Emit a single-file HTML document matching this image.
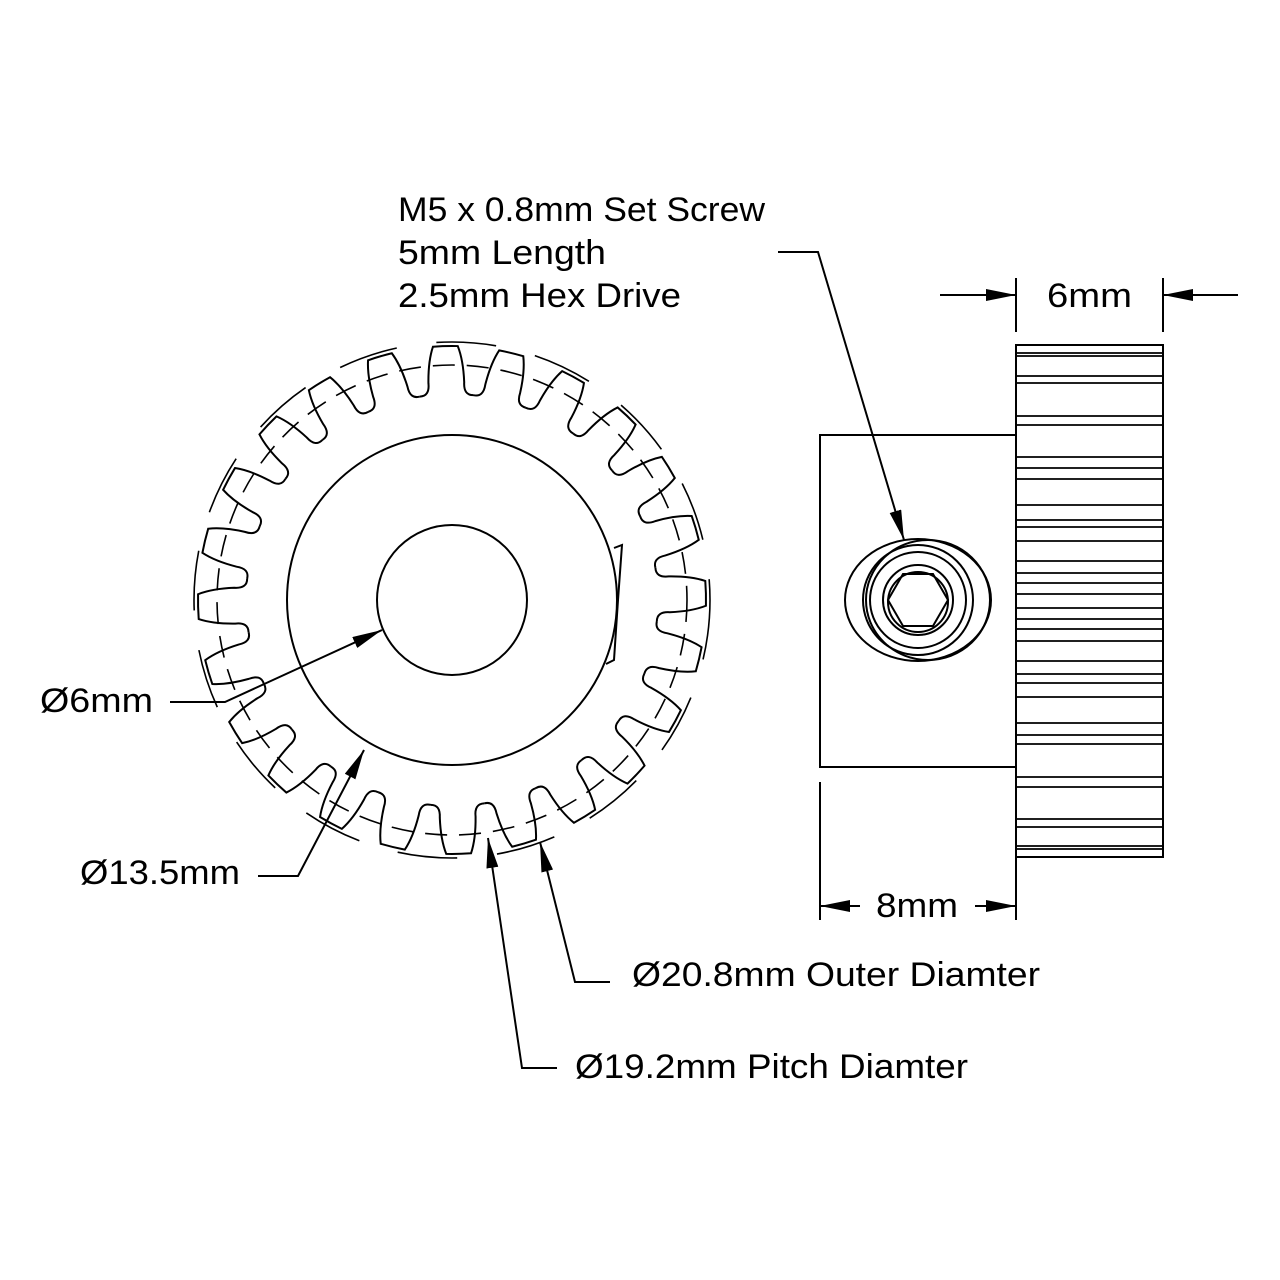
<!DOCTYPE html>
<html><head><meta charset="utf-8"><style>
html,body{margin:0;padding:0;background:#fff}
svg{display:block}
text{font-family:"Liberation Sans",sans-serif;font-size:34px;fill:#000}
</style></head><body>
<svg width="1280" height="1280" viewBox="0 0 1280 1280" xmlns="http://www.w3.org/2000/svg">
<defs>
<marker id="ar" markerWidth="30" markerHeight="12" refX="30" refY="6" orient="auto" markerUnits="userSpaceOnUse"><path d="M0,0 L30,6 L0,12 Z" fill="#000"/></marker>
<path id="t" d="M-26.9,-204.2 Q-16.8,-204.3 -17.9,-217.3 Q-17.6,-239.4 -12.4,-253.7 A254,254 0 0 1 12.4,-253.7 Q17.6,-239.4 17.9,-217.3 Q16.8,-204.3 26.9,-204.2"/>
</defs>
<g fill="none" stroke="#000" stroke-width="2">
<circle cx="452" cy="600" r="235" stroke-dasharray="22,12" stroke-width="1.6"/>
<circle cx="452" cy="600" r="258" stroke-dasharray="60,40" stroke-width="1.6"/>
<g transform="translate(452,600) rotate(-1.5)">
<use href="#t"/><use href="#t" transform="rotate(15)"/><use href="#t" transform="rotate(30)"/><use href="#t" transform="rotate(45)"/>
<use href="#t" transform="rotate(60)"/><use href="#t" transform="rotate(75)"/><use href="#t" transform="rotate(90)"/><use href="#t" transform="rotate(105)"/>
<use href="#t" transform="rotate(120)"/><use href="#t" transform="rotate(135)"/><use href="#t" transform="rotate(150)"/><use href="#t" transform="rotate(165)"/>
<use href="#t" transform="rotate(180)"/><use href="#t" transform="rotate(195)"/><use href="#t" transform="rotate(210)"/><use href="#t" transform="rotate(225)"/>
<use href="#t" transform="rotate(240)"/><use href="#t" transform="rotate(255)"/><use href="#t" transform="rotate(270)"/><use href="#t" transform="rotate(285)"/>
<use href="#t" transform="rotate(300)"/><use href="#t" transform="rotate(315)"/><use href="#t" transform="rotate(330)"/><use href="#t" transform="rotate(345)"/>
</g>
<circle cx="452" cy="600" r="165"/>
<circle cx="452" cy="600" r="75"/>
<path d="M614,548 L622,545 L618,600 L614,660 L606,664"/>
<rect x="820" y="435" width="196" height="332"/>
<rect x="1016" y="345" width="147" height="512" fill="#fff"/>
<g stroke-width="1.8">
<line x1="1016" y1="353" x2="1163" y2="353"/><line x1="1016" y1="356" x2="1163" y2="356"/><line x1="1016" y1="376" x2="1163" y2="376"/><line x1="1016" y1="383" x2="1163" y2="383"/>
<line x1="1016" y1="416" x2="1163" y2="416"/><line x1="1016" y1="425" x2="1163" y2="425"/><line x1="1016" y1="457" x2="1163" y2="457"/><line x1="1016" y1="468" x2="1163" y2="468"/>
<line x1="1016" y1="479" x2="1163" y2="479"/><line x1="1016" y1="505" x2="1163" y2="505"/><line x1="1016" y1="520" x2="1163" y2="520"/><line x1="1016" y1="527" x2="1163" y2="527"/>
<line x1="1016" y1="541" x2="1163" y2="541"/><line x1="1016" y1="561" x2="1163" y2="561"/><line x1="1016" y1="573" x2="1163" y2="573"/><line x1="1016" y1="583" x2="1163" y2="583"/>
<line x1="1016" y1="594" x2="1163" y2="594"/><line x1="1016" y1="608" x2="1163" y2="608"/><line x1="1016" y1="619" x2="1163" y2="619"/><line x1="1016" y1="629" x2="1163" y2="629"/>
<line x1="1016" y1="641" x2="1163" y2="641"/><line x1="1016" y1="661" x2="1163" y2="661"/><line x1="1016" y1="674" x2="1163" y2="674"/><line x1="1016" y1="683" x2="1163" y2="683"/>
<line x1="1016" y1="697" x2="1163" y2="697"/><line x1="1016" y1="723" x2="1163" y2="723"/><line x1="1016" y1="735" x2="1163" y2="735"/><line x1="1016" y1="744" x2="1163" y2="744"/>
<line x1="1016" y1="777" x2="1163" y2="777"/><line x1="1016" y1="787" x2="1163" y2="787"/><line x1="1016" y1="819" x2="1163" y2="819"/><line x1="1016" y1="827" x2="1163" y2="827"/>
<line x1="1016" y1="846" x2="1163" y2="846"/><line x1="1016" y1="849" x2="1163" y2="849"/>
</g>
<ellipse cx="918" cy="600" rx="73" ry="61"/>
<ellipse cx="928" cy="600" rx="62" ry="60"/>
<circle cx="918" cy="600" r="55"/>
<circle cx="918" cy="600" r="48"/>
<circle cx="918" cy="600" r="35"/>
<circle cx="918" cy="602" r="30"/>
<polygon points="888,600 903,574 933,574 948,600 933,626 903,626"/>
<line x1="1016" y1="278" x2="1016" y2="332"/>
<line x1="1163" y1="278" x2="1163" y2="332"/>
<line x1="940" y1="295" x2="1016" y2="295" marker-end="url(#ar)"/>
<line x1="1238" y1="295" x2="1163" y2="295" marker-end="url(#ar)"/>
<line x1="820" y1="782" x2="820" y2="920"/>
<line x1="1016" y1="782" x2="1016" y2="920"/>
<line x1="860" y1="906" x2="820" y2="906" marker-end="url(#ar)"/>
<line x1="975" y1="906" x2="1016" y2="906" marker-end="url(#ar)"/>
<polyline points="778,252 818,252 904,540" marker-end="url(#ar)"/>
<polyline points="170,702 225,702 382,630" marker-end="url(#ar)"/>
<polyline points="258,876 298,876 364,750" marker-end="url(#ar)"/>
<polyline points="610,982 575,982 540,842" marker-end="url(#ar)"/>
<polyline points="557,1068 522,1068 488,838" marker-end="url(#ar)"/>
</g>
<text x="398" y="221" textLength="367" lengthAdjust="spacingAndGlyphs">M5 x 0.8mm Set Screw</text>
<text x="398" y="264" textLength="208" lengthAdjust="spacingAndGlyphs">5mm Length</text>
<text x="398" y="307" textLength="283" lengthAdjust="spacingAndGlyphs">2.5mm Hex Drive</text>
<text x="1047" y="307" textLength="85" lengthAdjust="spacingAndGlyphs">6mm</text>
<text x="876" y="917" textLength="82" lengthAdjust="spacingAndGlyphs">8mm</text>
<text x="40" y="712" textLength="113" lengthAdjust="spacingAndGlyphs">Ø6mm</text>
<text x="80" y="884" textLength="160" lengthAdjust="spacingAndGlyphs">Ø13.5mm</text>
<text x="632" y="986" textLength="408" lengthAdjust="spacingAndGlyphs">Ø20.8mm Outer Diamter</text>
<text x="575" y="1078" textLength="393" lengthAdjust="spacingAndGlyphs">Ø19.2mm Pitch Diamter</text>
</svg>
</body></html>
